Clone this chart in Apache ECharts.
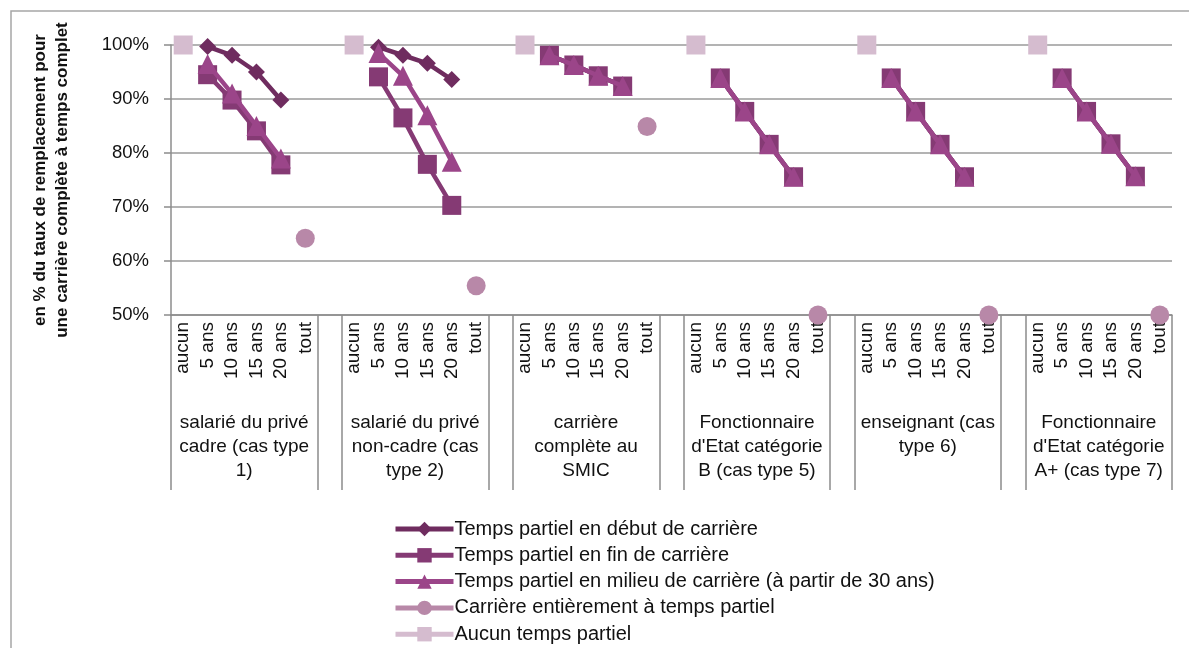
<!DOCTYPE html>
<html><head><meta charset="utf-8">
<script src="https://cdn.jsdelivr.net/npm/echarts@6/dist/echarts.min.js"></script>
<style>html,body{margin:0;padding:0;background:#fff}#c{width:1189px;height:648px}</style>
</head><body><div id="c"></div>
<script>
const subCats = ['aucun','5 ans','10 ans','15 ans','20 ans','tout'];
const groupNames = [
  'salarié du privé\ncadre (cas type\n1)',
  'salarié du privé\nnon-cadre (cas\ntype 2)',
  'carrière\ncomplète au\nSMIC',
  'Fonctionnaire\nd\'Etat catégorie\nB (cas type 5)',
  'enseignant (cas\ntype 6)',
  'Fonctionnaire\nd\'Etat catégorie\nA+ (cas type 7)'
];
const yTicks = [50,60,70,80,90,100];
const seriesNames = [
  'Temps partiel en début de carrière',
  'Temps partiel en fin de carrière',
  'Temps partiel en milieu de carrière (à partir de 30 ans)',
  'Carrière entièrement à temps partiel',
  'Aucun temps partiel'
];
// values per group (aucun, 5, 10, 15, 20, tout)
const debut = [
  [null,99.7,98.1,95.0,89.8,null],
  [null,99.6,98.1,96.6,93.6,null],
  [null,98.1,96.3,94.3,92.4,null],
  [null,93.9,87.7,81.6,75.6,null],
  [null,93.9,87.7,81.6,75.6,null],
  [null,93.9,87.7,81.7,75.7,null]
];
const fin = [
  [null,94.5,89.8,84.1,77.8,null],
  [null,94.1,86.5,77.9,70.3,null],
  [null,98.1,96.3,94.3,92.4,null],
  [null,93.9,87.7,81.6,75.6,null],
  [null,93.9,87.7,81.6,75.6,null],
  [null,93.9,87.7,81.7,75.7,null]
];
const milieu = [
  [null,96.5,91.0,85.0,79.0,null],
  [null,98.5,94.3,87.0,78.4,null],
  [null,98.1,96.3,94.3,92.4,null],
  [null,93.9,87.7,81.6,75.6,null],
  [null,93.9,87.7,81.6,75.6,null],
  [null,93.9,87.7,81.7,75.7,null]
];
const entiere = [
  [null,null,null,null,null,64.2],
  [null,null,null,null,null,55.4],
  [null,null,null,null,null,84.9],
  [null,null,null,null,null,50.0],
  [null,null,null,null,null,50.0],
  [null,null,null,null,null,50.0]
];
const aucun = [
  [100,null,null,null,null,null],
  [100,null,null,null,null,null],
  [100,null,null,null,null,null],
  [100,null,null,null,null,null],
  [100,null,null,null,null,null],
  [100,null,null,null,null,null]
];

// build flat category list with an empty separator category between groups
const categories = [];
groupNames.forEach((g,gi)=>{ subCats.forEach(s=>categories.push(s)); if(gi<groupNames.length-1) categories.push(''); });
function flat(arr){ const out=[]; arr.forEach((g,gi)=>{ g.forEach(v=>out.push(v)); if(gi<arr.length-1) out.push(null); }); return out; }
const nCat = categories.length;
const groupBounds = [], groupCenters = [];
groupNames.forEach((g,gi)=>{ const s=gi*(subCats.length+1); groupBounds.push(s, s+subCats.length); groupCenters.push(s+subCats.length/2); });

const FONT = '"Liberation Sans", Arial, sans-serif';
const colors = ['#6f2c5f','#853a74','#9b4589','#b888a8','#d5bccf'];
const symbols = ['diamond','rect','triangle','circle','rect'];
const sizes = [17,19,20,19,19];
const datasets = [debut, fin, milieu, entiere, aucun];

const chart = echarts.init(document.getElementById('c'));
chart.setOption({
  animation:false,
  textStyle:{fontFamily:FONT},
  graphic:[{type:'rect',shape:{x:11,y:11,width:1200,height:700},style:{fill:'none',stroke:'#a6a6a6',lineWidth:1.5},silent:true,z:-1}],
  grid:{left:171,right:17,top:45,bottom:333,containLabel:false},
  xAxis:[{
    type:'category', data:categories, boundaryGap:true,
    axisLine:{lineStyle:{color:'#8c8c8c',width:1.5}},
    axisTick:{interval:0,length:75,lineStyle:{color:'#8c8c8c',width:1.5}},
    axisLabel:{interval:0,rotate:90,fontSize:19,color:'#111',fontFamily:FONT,margin:7}
  },{
    type:'value', min:0, max:nCat, position:'bottom',
    axisLine:{show:false}, splitLine:{show:false},
    axisTick:{show:true,customValues:groupBounds,length:175,lineStyle:{color:'#8c8c8c',width:1.5}},
    axisLabel:{show:true,customValues:groupCenters,margin:96,fontSize:19,lineHeight:24,color:'#111',fontFamily:FONT,align:'center',
      formatter:(v)=>{ const i=groupCenters.indexOf(v); return i>=0?groupNames[i]:''; }}
  }],
  yAxis:{
    type:'value', min:yTicks[0], max:yTicks[yTicks.length-1], interval:10,
    axisLine:{show:true,lineStyle:{color:'#8c8c8c',width:1.5}},
    axisTick:{show:true,length:7,lineStyle:{color:'#8c8c8c',width:1.5}},
    splitLine:{lineStyle:{color:'#9a9a9a',width:1.5}},
    axisLabel:{formatter:'{value}%',fontSize:18.5,color:'#111',fontFamily:FONT,margin:22},
    name:'en % du taux de remplacement pour\nune carrière complète à temps complet',
    nameLocation:'middle', nameRotate:90, nameGap:98,
    nameTextStyle:{fontSize:17,fontWeight:'bold',color:'#111',fontFamily:FONT,lineHeight:22}
  },
  legend:{
    orient:'vertical', left:393, top:519, height:200, padding:0, itemGap:6.3, itemWidth:58, itemHeight:18,
    textStyle:{fontSize:20,lineHeight:18,color:'#111',fontFamily:FONT,padding:[0,0,0,-4]},
    lineStyle:{width:5},
    data:seriesNames
  },
  series: datasets.map((d,i)=>({
    name:seriesNames[i], type:'line', data:flat(d), xAxisIndex:0,
    symbol:symbols[i], symbolSize:sizes[i], showAllSymbol:true, clip:false,
    connectNulls:false,
    lineStyle:{color:colors[i],width:4.5},
    itemStyle:{color:colors[i]},
    z:2+i
  }))
});
</script></body></html>
